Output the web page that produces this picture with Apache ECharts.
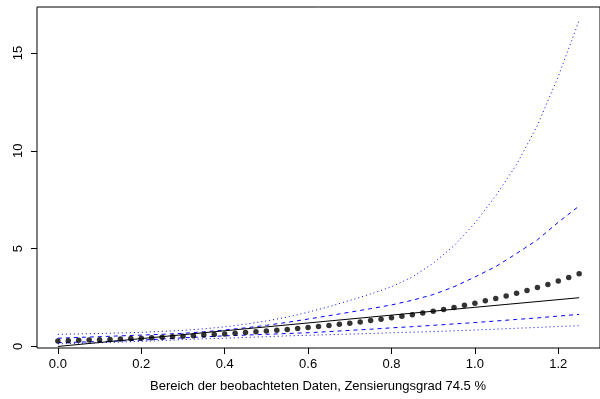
<!DOCTYPE html>
<html><head><meta charset="utf-8">
<script src="https://cdn.jsdelivr.net/npm/echarts@6/dist/echarts.min.js"></script>
<style>html,body{margin:0;padding:0;background:#fff}#c{width:600px;height:399px}</style>
</head><body><div id="c"></div>
<script>
const xTicks = [0, 0.2, 0.4, 0.6, 0.8, 1.0, 1.2];
const yTicks = [0, 5, 10, 15];
const xTitle = 'Bereich der beobachteten Daten, Zensierungsgrad 74.5 %';

const dotX = [0,0.025,0.05,0.075,0.1,0.125,0.15,0.175,0.2,0.225,0.25,0.275,0.3,0.325,0.35,0.375,0.4,0.425,0.45,0.475,0.5,0.525,0.55,0.575,0.6,0.625,0.65,0.675,0.7,0.725,0.75,0.775,0.8,0.825,0.85,0.875,0.9,0.925,0.95,0.975,1.0,1.025,1.05,1.075,1.1,1.125,1.15,1.175,1.2,1.225,1.25];
const dotY = [0.28,0.295,0.31,0.33,0.345,0.36,0.38,0.40,0.42,0.45,0.47,0.50,0.52,0.55,0.58,0.61,0.64,0.67,0.71,0.75,0.79,0.83,0.87,0.92,0.97,1.02,1.07,1.13,1.19,1.25,1.32,1.39,1.46,1.54,1.62,1.71,1.80,1.89,1.99,2.10,2.21,2.33,2.45,2.58,2.72,2.86,3.01,3.17,3.34,3.52,3.71];

const solidX = [0, 0.25, 0.5, 0.75, 1.0, 1.25];
const solidY = [0.0, 0.5, 1.0, 1.5, 2.0, 2.49];

const ciX = [0,0.05,0.1,0.15,0.2,0.25,0.3,0.35,0.4,0.45,0.5,0.55,0.6,0.65,0.7,0.75,0.8,0.85,0.9,0.95,1.0,1.05,1.1,1.15,1.2,1.25];
const upperDashed = [0.42,0.46,0.50,0.54,0.58,0.62,0.67,0.75,0.84,0.95,1.08,1.23,1.40,1.57,1.75,1.93,2.12,2.36,2.65,3.05,3.55,4.08,4.75,5.45,6.35,7.18];
const lowerDashed = [0.19,0.22,0.25,0.28,0.32,0.38,0.44,0.49,0.54,0.58,0.62,0.66,0.70,0.76,0.82,0.88,0.95,1.01,1.08,1.15,1.22,1.30,1.38,1.46,1.55,1.64];
const upperDotted = [0.62,0.64,0.66,0.69,0.72,0.77,0.82,0.90,1.00,1.14,1.30,1.50,1.75,2.03,2.35,2.68,3.05,3.55,4.25,5.15,6.30,7.70,9.30,11.30,13.80,16.66];
const lowerDotted = [0.13,0.16,0.19,0.22,0.26,0.30,0.35,0.39,0.42,0.46,0.50,0.54,0.57,0.60,0.63,0.66,0.70,0.73,0.76,0.80,0.84,0.88,0.93,0.97,1.02,1.06];

const zip = (a, b) => a.map((v, i) => [v, b[i]]);
const FONT = 'Liberation Sans, Arial, sans-serif';
const chart = echarts.init(document.getElementById('c'), null, {renderer: 'canvas'});

function ciLine(ys, dash) {
  return {type: 'line', data: zip(ciX, ys), showSymbol: false, smooth: false,
    lineStyle: {color: '#0000ff', width: 1, type: dash}, silent: true, z: 2};
}

chart.setOption({
  animation: false,
  grid: {left: 37, top: 7, right: -10, bottom: 51, show: true, borderColor: '#000', borderWidth: 1, backgroundColor: 'transparent'},
  xAxis: {type: 'value', min: -0.05, max: 1.30,
    axisLine: {show: false, onZero: false}, splitLine: {show: false},
    axisTick: {show: true, inside: false, length: 6, lineStyle: {color: '#000'}, customValues: xTicks},
    axisLabel: {color: '#000', fontSize: 13, fontFamily: FONT, margin: 10, customValues: xTicks,
      formatter: v => v.toFixed(1)}},
  yAxis: {type: 'value', min: -0.08, max: 17.35,
    axisLine: {show: false, onZero: false}, splitLine: {show: false},
    axisTick: {show: true, inside: false, length: 6, lineStyle: {color: '#000'}, customValues: yTicks},
    axisLabel: {color: '#000', fontSize: 13, fontFamily: FONT, margin: 12, rotate: 90, customValues: yTicks}},
  graphic: [{type: 'text', x: 318, y: 380, style: {text: xTitle, fill: '#000', font: '13px ' + FONT, textAlign: 'center'}}],
  series: [
    ciLine(upperDotted, [1, 3]),
    ciLine(lowerDotted, [1, 3]),
    ciLine(upperDashed, [4, 4]),
    ciLine(lowerDashed, [4, 4]),
    {type: 'line', data: zip(solidX, solidY), showSymbol: false, lineStyle: {color: '#000', width: 1}, silent: true, z: 3},
    {type: 'scatter', data: zip(dotX, dotY), symbol: 'circle', symbolSize: 5.5, itemStyle: {color: '#000'}, silent: true, z: 4}
  ]
});
</script></body></html>
